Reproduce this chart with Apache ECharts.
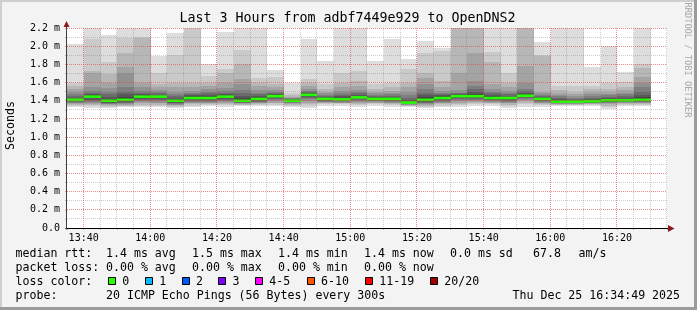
<!DOCTYPE html>
<html><head><meta charset="utf-8">
<script src="https://cdn.jsdelivr.net/npm/echarts@6/dist/echarts.min.js"></script>
<style>html,body{margin:0;padding:0;background:#f3f3f3;}#c{width:697px;height:310px;}</style>
</head><body><div id="c"></div>
<script>
// ---- data ----
const stepStarts = ['13:35','13:40','13:45','13:50','13:55','14:00','14:05','14:10','14:15','14:20',
  '14:25','14:30','14:35','14:40','14:45','14:50','14:55','15:00','15:05','15:10','15:15','15:20',
  '15:25','15:30','15:35','15:40','15:45','15:50','15:55','16:00','16:05','16:10','16:15','16:20','16:25'];
const medianRtt = [1.41,1.445,1.40,1.41,1.445,1.445,1.40,1.43,1.43,1.445,1.40,1.42,1.45,1.40,1.465,1.42,1.415,1.437,
  1.42,1.42,1.38,1.41,1.43,1.45,1.45,1.43,1.43,1.455,1.42,1.39,1.39,1.395,1.405,1.405,1.41];
const lossPerStep = [0,0,0,0,0,0,0,0,0,0,0,0,0,0,0,0,0,0,0,0,0,0,0,0,0,0,0,0,0,0,0,0,0,0,0];
// 20 sorted ping rtts (ms) per 5-minute step
const pingsByStep = [
 [1.327,1.34,1.35,1.36,1.37,1.38,1.39,1.395,1.40,1.405,1.41,1.42,1.435,1.45,1.47,1.50,1.53,1.56,1.60,2.02],
 [1.32,1.34,1.35,1.36,1.38,1.39,1.40,1.41,1.43,1.44,1.45,1.46,1.47,1.49,1.51,1.55,1.70,1.73,2.08,2.30],
 [1.325,1.335,1.34,1.35,1.36,1.365,1.37,1.38,1.39,1.40,1.41,1.42,1.44,1.47,1.50,1.54,1.60,1.69,1.83,2.12],
 [1.33,1.34,1.345,1.35,1.36,1.37,1.38,1.39,1.40,1.41,1.42,1.44,1.47,1.50,1.55,1.70,1.77,1.93,2.09,2.30],
 [1.33,1.34,1.35,1.37,1.39,1.40,1.41,1.42,1.43,1.44,1.45,1.46,1.47,1.49,1.51,1.55,1.59,2.09,2.10,2.30],
 [1.33,1.34,1.35,1.37,1.38,1.40,1.41,1.42,1.43,1.44,1.45,1.455,1.465,1.48,1.50,1.52,1.55,1.58,1.71,1.89],
 [1.325,1.335,1.34,1.35,1.355,1.36,1.37,1.38,1.39,1.40,1.41,1.42,1.43,1.45,1.47,1.50,1.55,1.60,1.90,2.14],
 [1.335,1.345,1.36,1.37,1.38,1.39,1.40,1.41,1.42,1.43,1.44,1.45,1.46,1.47,1.49,1.51,1.55,1.60,2.25,2.30],
 [1.34,1.35,1.36,1.37,1.38,1.39,1.40,1.41,1.42,1.43,1.44,1.45,1.46,1.48,1.50,1.53,1.565,1.60,1.67,1.80],
 [1.33,1.35,1.36,1.37,1.39,1.40,1.41,1.42,1.43,1.44,1.45,1.46,1.47,1.49,1.51,1.54,1.59,1.70,1.75,2.16],
 [1.34,1.35,1.355,1.36,1.37,1.375,1.38,1.385,1.39,1.40,1.415,1.43,1.45,1.48,1.52,1.58,1.64,1.80,1.96,2.30],
 [1.34,1.35,1.36,1.37,1.38,1.385,1.39,1.40,1.41,1.42,1.43,1.44,1.45,1.47,1.49,1.52,1.56,1.60,1.655,2.30],
 [1.34,1.355,1.37,1.38,1.40,1.41,1.42,1.43,1.44,1.45,1.455,1.46,1.47,1.485,1.50,1.52,1.55,1.585,1.665,1.74],
 [1.33,1.34,1.35,1.36,1.37,1.38,1.385,1.39,1.395,1.40,1.405,1.41,1.415,1.42,1.425,1.43,1.445,1.46,1.48,1.59],
 [1.315,1.34,1.36,1.38,1.40,1.42,1.43,1.44,1.455,1.465,1.47,1.48,1.49,1.50,1.51,1.53,1.56,1.59,1.64,2.08],
 [1.345,1.36,1.37,1.38,1.385,1.39,1.395,1.40,1.41,1.42,1.425,1.43,1.44,1.45,1.465,1.48,1.50,1.53,1.585,1.84],
 [1.345,1.36,1.37,1.375,1.38,1.39,1.395,1.40,1.41,1.415,1.425,1.435,1.45,1.46,1.48,1.51,1.55,1.60,1.70,2.30],
 [1.33,1.35,1.365,1.38,1.39,1.40,1.41,1.42,1.43,1.437,1.445,1.455,1.465,1.48,1.50,1.52,1.56,1.62,1.73,2.30],
 [1.345,1.36,1.37,1.38,1.39,1.395,1.40,1.405,1.41,1.42,1.425,1.43,1.44,1.45,1.465,1.48,1.50,1.53,1.58,1.84],
 [1.335,1.35,1.36,1.37,1.38,1.39,1.395,1.40,1.41,1.42,1.425,1.435,1.445,1.455,1.47,1.49,1.51,1.55,1.60,2.08],
 [1.33,1.34,1.345,1.35,1.355,1.36,1.365,1.37,1.375,1.38,1.39,1.40,1.41,1.43,1.46,1.50,1.55,1.60,1.75,1.86],
 [1.325,1.335,1.345,1.35,1.36,1.37,1.38,1.39,1.40,1.41,1.42,1.44,1.46,1.49,1.53,1.58,1.65,1.71,1.93,2.06],
 [1.33,1.345,1.36,1.37,1.38,1.39,1.40,1.41,1.42,1.43,1.44,1.45,1.46,1.47,1.49,1.51,1.55,1.62,1.95,1.98],
 [1.335,1.35,1.36,1.38,1.40,1.41,1.42,1.43,1.44,1.45,1.455,1.46,1.47,1.48,1.49,1.52,1.71,2.20,2.25,2.30],
 [1.345,1.36,1.375,1.39,1.40,1.41,1.42,1.43,1.44,1.45,1.46,1.475,1.50,1.53,1.565,1.62,1.92,2.20,2.25,2.30],
 [1.345,1.36,1.37,1.38,1.39,1.40,1.405,1.41,1.42,1.43,1.44,1.45,1.46,1.48,1.50,1.53,1.58,1.83,1.94,2.30],
 [1.32,1.34,1.355,1.37,1.38,1.39,1.40,1.41,1.42,1.43,1.435,1.445,1.455,1.47,1.49,1.51,1.55,1.60,1.71,2.30],
 [1.335,1.36,1.38,1.40,1.41,1.42,1.43,1.44,1.45,1.455,1.465,1.475,1.49,1.51,1.53,1.60,1.785,2.20,2.25,2.30],
 [1.335,1.35,1.36,1.37,1.38,1.39,1.395,1.40,1.41,1.42,1.425,1.435,1.44,1.45,1.46,1.48,1.50,1.89,1.90,2.05],
 [1.34,1.35,1.355,1.36,1.365,1.37,1.375,1.38,1.385,1.39,1.395,1.405,1.415,1.43,1.45,1.465,1.49,1.52,1.56,2.30],
 [1.34,1.35,1.355,1.36,1.365,1.37,1.375,1.38,1.385,1.39,1.395,1.40,1.41,1.42,1.43,1.45,1.47,1.50,1.56,2.30],
 [1.34,1.35,1.36,1.365,1.37,1.375,1.38,1.385,1.39,1.395,1.40,1.41,1.42,1.43,1.45,1.47,1.50,1.53,1.565,1.77],
 [1.305,1.33,1.345,1.36,1.37,1.38,1.385,1.39,1.40,1.405,1.41,1.42,1.43,1.445,1.46,1.475,1.50,1.53,1.60,2.00],
 [1.34,1.35,1.36,1.37,1.38,1.385,1.39,1.395,1.40,1.405,1.41,1.42,1.435,1.45,1.47,1.49,1.52,1.55,1.61,1.715],
 [1.34,1.35,1.36,1.37,1.38,1.385,1.39,1.395,1.40,1.41,1.42,1.44,1.46,1.50,1.55,1.60,1.66,1.76,1.80,2.30]
];
const xTickLabels = ['13:40','14:00','14:20','14:40','15:00','15:20','15:40','16:00','16:20'];
const yTickLabels = ['0.0','0.2 m','0.4 m','0.6 m','0.8 m','1.0 m','1.2 m','1.4 m','1.6 m','1.8 m','2.0 m','2.2 m'];
const lossLabels = ['0','1','2','3','4-5','6-10','11-19','20/20'];
const lossColors = ['#26ff00','#00b8ff','#0059ff','#7e00ff','#ff00ff','#ff5500','#ff0000','#a00000'];
const lossUpper = [0,1,2,3,5,10,19,20];
const rttStats = ['1.4 ms avg','1.5 ms max','1.4 ms min','1.4 ms now','0.0 ms sd','67.8','am/s'];
const lossStats = ['0.00 % avg','0.00 % max','0.00 % min','0.00 % now'];
const titleText = 'Last 3 Hours from adbf7449e929 to OpenDNS2';
const probeText = '20 ICMP Echo Pings (56 Bytes) every 300s';
const stampText = 'Thu Dec 25 16:34:49 2025';

// ---- helpers ----
const STEP = 5, Y_MAX = 2.2, Y_MINOR = 0.1;
const toMin = s => { const [h, m] = s.split(':').map(Number); return h * 60 + m; };
const fmtMin = v => String(Math.floor(v / 60)).padStart(2, '0') + ':' + String(Math.round(v % 60)).padStart(2, '0');
const xMin = toMin(stepStarts[0]);
const xMax = xMin + 180;
const smokeColor = k => { const c = Math.floor(190 / 10 * (10 - (k + 1))) + 50; const h = c.toString(16).padStart(2, '0'); return '#' + h + h + h; };
const lossColor = l => { for (let i = 0; i < lossUpper.length; i++) if (l <= lossUpper[i]) return lossColors[i]; return lossColors[lossColors.length - 1]; };
const snapX = c => Math.ceil(c - 1e-4) - 1;   // pixel column used for a vertical boundary
const snapY = c => Math.floor(c + 1e-4);      // pixel row used for a horizontal line
const MONO = "'DejaVu Sans Mono', monospace";
const GRID_MINOR = 'rgba(128,128,128,0.4)';
const GRID_MAJOR = 'rgba(225,70,70,0.62)';

const seriesData = pingsByStep.map((p, i) => [toMin(stepStarts[i]), ...p, medianRtt[i], lossPerStep[i]]);

// grid lines: [direction (0 = vertical, 1 = horizontal), axis value, isMajor]
const gridLines = [];
for (let t = xMin + STEP; t <= xMax; t += STEP) gridLines.push([0, t, xTickLabels.includes(fmtMin(t)) ? 1 : 0]);
for (let k = 1; k * Y_MINOR <= Y_MAX + 1e-9; k++) gridLines.push([1, +(k * Y_MINOR).toFixed(1), k % 2 === 0 ? 1 : 0]);
gridLines.sort((a, b) => a[2] - b[2]);

const chart = echarts.init(document.getElementById('c'), null, { renderer: 'canvas' });
const option = {
  animation: false,
  backgroundColor: '#f3f3f3',
  grid: { left: 67, top: 28, width: 600, height: 200, show: true, backgroundColor: '#ffffff', borderWidth: 0 },
  xAxis: {
    type: 'value', min: xMin, max: xMax, interval: STEP,
    axisLine: { show: false },
    axisTick: { show: true, length: 2, lineStyle: { color: '#b8b8b8' } },
    axisLabel: { margin: 5, fontFamily: MONO, fontSize: 10, color: '#000',
      formatter: v => { const s = fmtMin(v); return xTickLabels.includes(s) ? s : ''; } },
    splitLine: { show: false }
  },
  yAxis: {
    type: 'value', min: 0, max: Y_MAX, interval: Y_MINOR,
    axisLine: { show: false },
    axisTick: { show: true, length: 2, lineStyle: { color: '#b8b8b8' } },
    axisLabel: { margin: 7, fontFamily: MONO, fontSize: 10, color: '#000',
      formatter: v => { const k = Math.round(v * 10); return k % 2 ? '' : yTickLabels[k / 2]; } },
    splitLine: { show: false }
  },
  series: [{
    type: 'custom', z: 2,
    data: seriesData,
    encode: { x: 0, y: 10 },
    renderItem: (params, api) => {
      const x0 = api.value(0);
      const children = [];
      for (let k = 0; k < 10; k++) {
        const lo = Math.min(api.value(1 + k), Y_MAX), hi = Math.min(api.value(20 - k), Y_MAX);
        const a = api.coord([x0, lo]), b = api.coord([x0 + STEP, hi]);
        const xl = snapX(a[0]) + 1, xr = snapX(b[0]) + 1;
        const yt = Math.round(b[1]), yb = Math.round(a[1]);
        children.push({ type: 'rect', shape: { x: xl, y: yt, width: xr - xl, height: Math.max(yb - yt, 0) }, style: { fill: smokeColor(k) } });
      }
      const med = api.value(21);
      const m0 = api.coord([x0, med]), m1 = api.coord([x0 + STEP, med]);
      const xl = snapX(m0[0]) + 1, xr = snapX(m1[0]) + 1;
      children.push({ type: 'rect', shape: { x: xl, y: m0[1] - 1.3, width: xr - xl, height: 2.6 }, style: { fill: lossColor(api.value(22)) } });
      return { type: 'group', children };
    }
  }, {
    type: 'custom', z: 4, silent: true,
    data: gridLines,
    encode: { x: 1, y: 1 },
    renderItem: (params, api) => {
      const dir = api.value(0), v = api.value(1), major = api.value(2);
      const cs = params.coordSys;
      let shape;
      if (dir === 0) {
        const px = snapX(api.coord([v, 0])[0]) + 0.5;
        shape = { x1: px, y1: cs.y, x2: px, y2: cs.y + cs.height };
      } else {
        const py = snapY(api.coord([xMin, v])[1]) + 0.5;
        shape = { x1: cs.x, y1: py, x2: cs.x + cs.width, y2: py };
      }
      return { type: 'line', shape, style: { stroke: major ? GRID_MAJOR : GRID_MINOR, lineWidth: 1, lineDash: [1, 1] } };
    }
  }]
};
chart.setOption(option);

// ---- decorations: axes with arrows, texts, frame ----
const o = chart.convertToPixel({ gridIndex: 0 }, [xMin, 0]);
const e = chart.convertToPixel({ gridIndex: 0 }, [xMax, Y_MAX]);
const ax = Math.round(o[0]) - 0.5, ay = Math.round(o[1]) + 0.5;
const ex = Math.round(e[0]), ey = Math.round(e[1]);
const ARROW = '#8b1a1a';
const txt = (x, y, text, extra) => Object.assign({ type: 'text', x, y, z: 20,
  style: Object.assign({ text, font: "11.6px 'DejaVu Sans Mono'", fill: '#000', textVerticalAlign: 'middle', textAlign: 'left' }, extra || {}) });
const g = [];
g.push({ type: 'line', z: 19, shape: { x1: ax - 1, y1: ay, x2: ex + 1, y2: ay }, style: { stroke: '#000', lineWidth: 1 } });
g.push({ type: 'line', z: 19, shape: { x1: ax, y1: ay + 1, x2: ax, y2: ey - 5 }, style: { stroke: '#404040', lineWidth: 1 } });
g.push({ type: 'polygon', z: 19, shape: { points: [[ex + 1, ay - 3.5], [ex + 7.5, ay], [ex + 1, ay + 3.5]] }, style: { fill: ARROW } });
g.push({ type: 'polygon', z: 19, shape: { points: [[ax - 3, ey - 1], [ax, ey - 7], [ax + 3, ey - 1]] }, style: { fill: ARROW } });
g.push(txt(347.5, 19, titleText, { font: "13.3px 'DejaVu Sans Mono'", textAlign: 'center' }));
g.push(Object.assign(txt(11, 125.5, 'Seconds', { textAlign: 'center' }), { rotation: Math.PI / 2 }));
g.push(Object.assign(txt(687.5, 60, 'RRDTOOL / TOBI OETIKER', { textAlign: 'center', font: "8.7px 'DejaVu Sans Mono'", fill: '#a8a8a8' }), { rotation: -Math.PI / 2 }));
// legend rows
const rowY = [254.3, 268.3, 282.3, 296];
const colX = [106, 192, 278, 364, 450, 533, 578.5];
g.push(txt(15.5, rowY[0], 'median rtt:'));
rttStats.forEach((s, i) => g.push(txt(colX[i], rowY[0], s)));
g.push(txt(15.5, rowY[1], 'packet loss:'));
lossStats.forEach((s, i) => g.push(txt(colX[i], rowY[1], s)));
g.push(txt(15.5, rowY[2], 'loss color:'));
const boxX = [108, 145, 181.7, 218.3, 255, 306.7, 365, 430];
lossLabels.forEach((s, i) => {
  g.push({ type: 'rect', z: 20, shape: { x: Math.round(boxX[i]) + 0.5, y: 277.5, width: 7, height: 7 }, style: { fill: lossColors[i], stroke: '#000', lineWidth: 1 } });
  g.push(txt(boxX[i] + 14.3, rowY[2], s));
});
g.push(txt(15.5, rowY[3], 'probe:'));
g.push(txt(106, rowY[3], probeText));
g.push(txt(512.5, rowY[3], stampText));
// 3D frame
g.push({ type: 'rect', z: 30, shape: { x: 0, y: 0, width: 697, height: 2 }, style: { fill: '#cfcfcf' } });
g.push({ type: 'rect', z: 30, shape: { x: 0, y: 0, width: 2, height: 310 }, style: { fill: '#cfcfcf' } });
g.push({ type: 'rect', z: 30, shape: { x: 0, y: 307, width: 697, height: 3 }, style: { fill: '#9c9c9c' } });
g.push({ type: 'rect', z: 30, shape: { x: 694, y: 0, width: 3, height: 310 }, style: { fill: '#9c9c9c' } });
chart.setOption({ graphic: g });
</script></body></html>
